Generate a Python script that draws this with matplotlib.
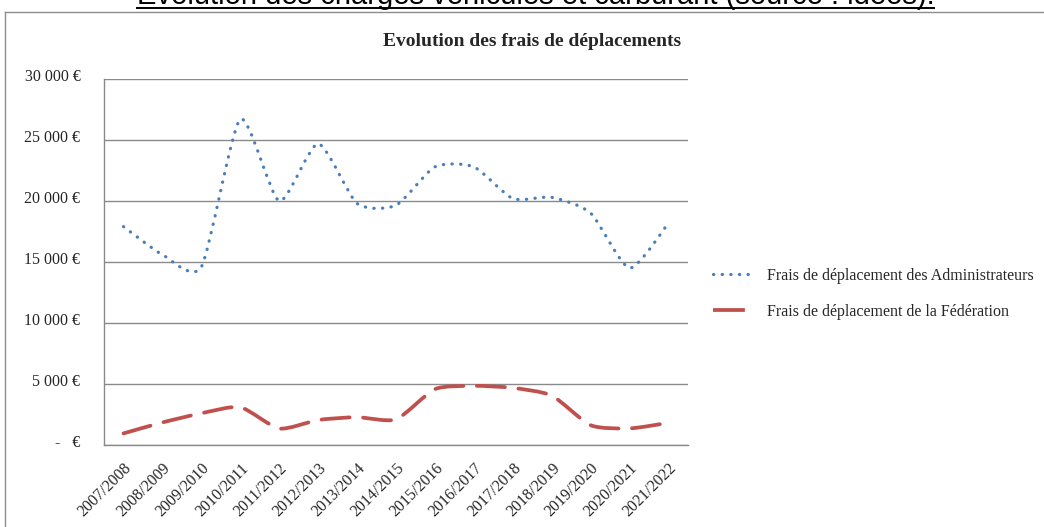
import matplotlib
matplotlib.use("Agg")
import matplotlib.pyplot as plt
from matplotlib.lines import Line2D
from matplotlib.patches import PathPatch
from matplotlib.path import Path
from matplotlib.transforms import ScaledTranslation

seasons = ["2007/2008", "2008/2009", "2009/2010", "2010/2011", "2011/2012",
           "2012/2013", "2013/2014", "2014/2015", "2015/2016", "2016/2017",
           "2017/2018", "2018/2019", "2019/2020", "2020/2021", "2021/2022"]
admin_costs = [17900, 15600, 14600, 26700, 20000, 24700, 19800, 19650,
               22800, 22800, 20200, 20300, 19000, 14500, 18200]
federation_costs = [950, 1850, 2600, 3100, 1350, 2050, 2280, 2100,
                    4580, 4850, 4680, 4050, 1620, 1360, 1820]
y_ticks = [0, 5000, 10000, 15000, 20000, 25000, 30000]
y_labels = ["-   €", "5 000 €", "10 000 €", "15 000 €", "20 000 €",
            "25 000 €", "30 000 €"]
series_labels = ["Frais de déplacement des Administrateurs",
                 "Frais de déplacement de la Fédération"]

_BLUE = "#4a7ebb"
_RED = "#c0504d"
_GRID = "#8a8a8a"
_TEXT = "#262626"
_SERIF = "Liberation Serif"
_TENSION = 0.11


def smooth_path(xs, ys):
    # Excel-like smoothed line: cubic Bezier through every point
    pts = list(zip(xs, ys))
    n = len(pts)
    verts = [pts[0]]
    codes = [Path.MOVETO]
    for i in range(n - 1):
        p0 = pts[max(i - 1, 0)]
        p1 = pts[i]
        p2 = pts[i + 1]
        p3 = pts[min(i + 2, n - 1)]
        c1 = (p1[0] + (p2[0] - p0[0]) * _TENSION, p1[1] + (p2[1] - p0[1]) * _TENSION)
        c2 = (p2[0] - (p3[0] - p1[0]) * _TENSION, p2[1] - (p3[1] - p1[1]) * _TENSION)
        verts += [c1, c2, p2]
        codes += [Path.CURVE4] * 3
    return Path(verts, codes)


fig = plt.figure(figsize=(10.44, 5.27), dpi=100)
fig.patch.set_facecolor("white")
ax = fig.add_axes([104 / 1044, 82 / 527, 584 / 1044, 366 / 527])

xs = list(range(len(seasons)))
blue = PathPatch(smooth_path(xs, admin_costs), fill=False, edgecolor=_BLUE,
                 linewidth=2.3, linestyle=(0, (0.1, 2.6)), capstyle="round")
red = PathPatch(smooth_path(xs, federation_costs), fill=False, edgecolor=_RED,
                linewidth=2.7, linestyle=(0, (7.5, 3.6)), capstyle="round")
ax.add_patch(blue)
ax.add_patch(red)

ax.set_xlim(-0.5, len(seasons) - 0.5)
ax.set_ylim(0, 30000)
ax.set_xticks(xs)
ax.set_xticklabels(seasons, rotation=45, ha="right", rotation_mode="anchor",
                   fontsize=11.5, family=_SERIF, color=_TEXT)
ax.set_yticks(y_ticks)
ax.set_yticklabels(y_labels, fontsize=11.5, family=_SERIF, color=_TEXT)
ax.tick_params(axis="x", length=0, pad=11)
ax.tick_params(axis="y", length=0, pad=17)
for lab in ax.get_yticklabels():
    lab.set_transform(lab.get_transform() + ScaledTranslation(0, 0.04, fig.dpi_scale_trans))

ax.grid(True, axis="y", color=_GRID, linewidth=1.0)
ax.set_axisbelow(True)
for side in ("top", "right"):
    ax.spines[side].set_visible(False)
for side in ("left", "bottom"):
    ax.spines[side].set_color(_GRID)
    ax.spines[side].set_linewidth(1.0)

handles = [
    Line2D([], [], color=_BLUE, linewidth=2.3, linestyle=(0, (0.1, 2.6)),
           dash_capstyle="round"),
    Line2D([], [], color=_RED, linewidth=2.7, linestyle=(0, (8.5, 20)),
           dash_capstyle="butt"),
]
fig.legend(handles, series_labels, loc="center left",
           bbox_to_anchor=(713 / 1044, 1 - 294 / 527), frameon=False,
           prop={"family": _SERIF, "size": 11.5}, labelcolor=_TEXT,
           handlelength=2.7, handletextpad=0.65, labelspacing=1.25,
           borderpad=0, borderaxespad=0)

fig.text(532 / 1044, 1 - 41 / 527, "Evolution des frais de déplacements",
         ha="center", va="center", fontsize=14, weight="bold",
         family=_SERIF, color=_TEXT)

# chart frame (only left and top edges fall inside the crop)
fig.add_artist(Line2D([5 / 1044, 5 / 1044], [0, 1 - 11.5 / 527],
                      transform=fig.transFigure, color="#8c8c8c", linewidth=1.0))
fig.add_artist(Line2D([5 / 1044, 1], [1 - 11.5 / 527, 1 - 11.5 / 527],
                      transform=fig.transFigure, color="#8c8c8c", linewidth=1.0))

# clipped document heading above the chart, underlined
head = fig.text(535.5 / 1044, 1 - 4.5 / 527,
                "Evolution des charges véhicules et carburant (source : ideos).",
                ha="center", va="baseline", fontsize=21,
                family="Liberation Sans", color="black")
fig.canvas.draw()
bb = head.get_window_extent().transformed(fig.transFigure.inverted())
fig.add_artist(Line2D([bb.x0, bb.x1], [1 - 8.3 / 527, 1 - 8.3 / 527],
                      transform=fig.transFigure, color="black", linewidth=1.4))

fig.savefig("out.png", dpi=100, facecolor=fig.get_facecolor())
plt.close(fig)
